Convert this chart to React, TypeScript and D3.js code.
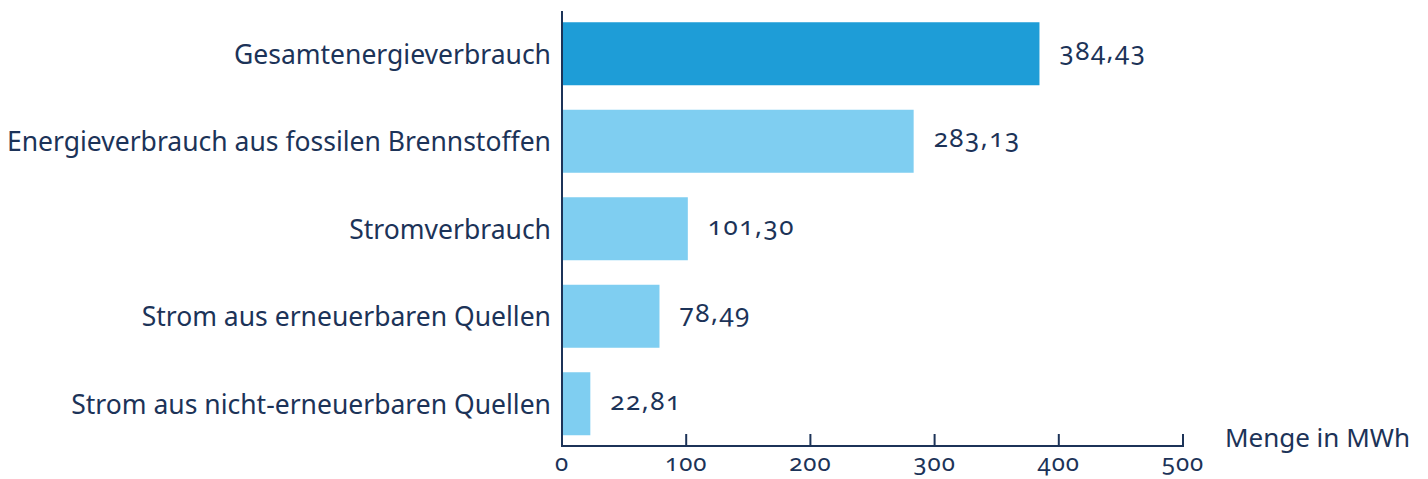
import React from "react";
import * as d3 from "d3";

const categories = [
  "Gesamtenergieverbrauch",
  "Energieverbrauch aus fossilen Brennstoffen",
  "Stromverbrauch",
  "Strom aus erneuerbaren Quellen",
  "Strom aus nicht-erneuerbaren Quellen",
];
const values = [384.43, 283.13, 101.3, 78.49, 22.81];
const valueLabels = ["384,43", "283,13", "101,30", "78,49", "22,81"];
const ticks = [0, 100, 200, 300, 400, 500];
const axisTitle = "Menge in MWh";

const W = 1428;
const H = 479;
const NAVY = "#1c3358";
const DARK = "#1e9dd7";
const LIGHT = "#7fcef1";
const FONT = "'Noto Sans', sans-serif";

export default function App() {
  const x = d3.scaleLinear().domain([0, 500]).range([562, 1183]);
  const y = d3
    .scaleBand<string>()
    .domain(categories)
    .range([10, 447.5])
    .paddingInner(0.28)
    .paddingOuter(0.14);
  const axisY = 446;

  return (
    <svg
      width={W}
      height={H}
      style={{ position: "absolute", left: 0, top: 0, display: "block" }}
      fontFamily={FONT}
    >
      <rect width={W} height={H} fill="#fff" />
      {categories.map((c, i) => {
        const yy = y(c)!;
        const bw = y.bandwidth();
        const cy = yy + bw / 2;
        return (
          <g key={c}>
            <rect
              x={x(0) + 1}
              y={yy}
              width={x(values[i]) - x(0) - 1}
              height={bw}
              fill={i === 0 ? DARK : LIGHT}
            />
            <text
              x={551}
              y={cy + 10}
              textAnchor="end"
              fontSize={26.5}
              fill={NAVY}
            >
              {c}
            </text>
            <text
              x={x(values[i]) + 20}
              y={cy + 6}
              fontSize={26}
              letterSpacing={1.5}
              fill={NAVY}
              style={{ fontVariantNumeric: "oldstyle-nums" }}
            >
              {valueLabels[i]}
            </text>
          </g>
        );
      })}
      <line x1={562} x2={562} y1={11} y2={axisY + 1} stroke={NAVY} strokeWidth={2} />
      <line x1={561} x2={x(500) + 1} y1={axisY} y2={axisY} stroke={NAVY} strokeWidth={2} />
      {ticks.map((t) => (
        <g key={t}>
          {t !== 0 && (
            <line x1={x(t)} x2={x(t)} y1={axisY} y2={axisY - 12} stroke={NAVY} strokeWidth={2} />
          )}
          <text
            x={x(t)}
            y={471}
            textAnchor="middle"
            fontSize={24}
            letterSpacing={1}
            fill={NAVY}
            style={{ fontVariantNumeric: "oldstyle-nums" }}
          >
            {t}
          </text>
        </g>
      ))}
      <text x={1410} y={447} textAnchor="end" fontSize={26} fill={NAVY}>
        {axisTitle}
      </text>
    </svg>
  );
}
